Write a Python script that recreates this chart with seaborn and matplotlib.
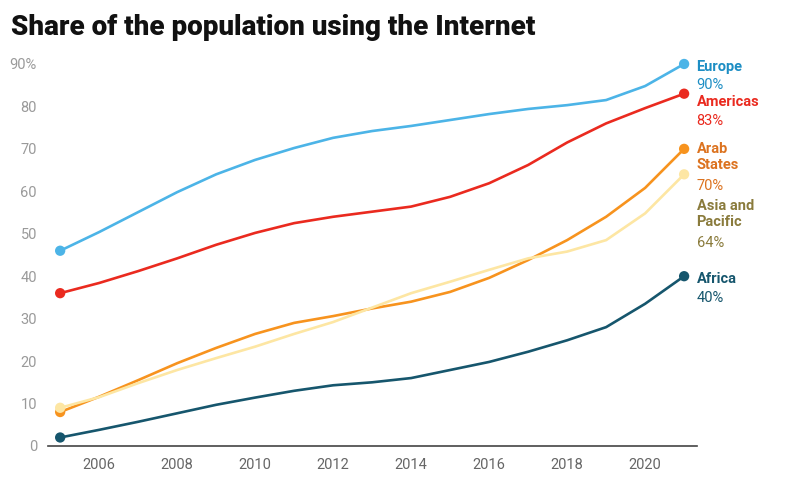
import pandas as pd
import matplotlib.pyplot as plt
import seaborn as sns

# Datos (porcentaje de la población que usa Internet)
years = list(range(2005, 2022))
europe = [46, 50.4, 55.1, 59.8, 64.0, 67.4, 70.2, 72.6, 74.2, 75.4, 76.8, 78.2, 79.4, 80.3, 81.5, 84.8, 90]
americas = [36, 38.4, 41.2, 44.2, 47.4, 50.2, 52.5, 54.0, 55.2, 56.4, 58.7, 61.9, 66.2, 71.5, 76.0, 79.6, 83]
arab_states = [8, 11.6, 15.5, 19.5, 23.1, 26.4, 29.0, 30.6, 32.4, 34.0, 36.3, 39.6, 43.8, 48.5, 54.0, 60.8, 70]
asia_pacific = [9, 11.5, 14.8, 17.9, 20.7, 23.4, 26.4, 29.2, 32.6, 36.0, 38.7, 41.5, 44.2, 45.8, 48.5, 54.8, 64]
africa = [2, 3.8, 5.7, 7.7, 9.7, 11.4, 13.0, 14.3, 15.0, 16.0, 17.9, 19.8, 22.2, 24.9, 28.0, 33.5, 40]

regions = ['Europe', 'Americas', 'Arab States', 'Asia and Pacific', 'Africa']
label_names = ['Europe', 'Americas', 'Arab\nStates', 'Asia and\nPacific', 'Africa']
label_y = [91, 82.7, 71.6, 58.2, 41]
line_colors = ['#4cb4e7', '#ea2a1f', '#f7931e', '#fde6a3', '#16566d']
text_colors = ['#1d8ec4', '#ea2a1f', '#dc7320', '#8a7b3c', '#16566d']

df = pd.DataFrame({
    'year': years * 5,
    'share': europe + americas + arab_states + asia_pacific + africa,
    'region': [r for r in regions for _ in years],
})

plt.rcParams['font.family'] = ['Roboto', 'DejaVu Sans']

fig = plt.figure(figsize=(7.88, 4.91), dpi=100)
ax = fig.add_axes([0.061, 0.0917, 0.8235, 0.778])

palette = dict(zip(regions, line_colors))
sns.lineplot(data=df, x='year', y='share', hue='region', palette=palette,
             linewidth=1.9, legend=False, ax=ax)
for ln in ax.lines:
    ln.set_solid_joinstyle('round')

# puntos al inicio y al final
ends = df[df['year'].isin([years[0], years[-1]])]
sns.scatterplot(data=ends, x='year', y='share', hue='region', palette=palette,
                s=55, edgecolor='none', legend=False, ax=ax, clip_on=False, zorder=5)

# etiquetas a la derecha
last = df[df['year'] == years[-1]].set_index('region')['share']
for r, name, ly, tc in zip(regions, label_names, label_y, text_colors):
    nlines = name.count('\n') + 1
    ax.annotate(name, xy=(years[-1], ly), xytext=(9, 0), textcoords='offset points',
                ha='left', va='top', fontsize=10.5, fontweight='bold', color=tc,
                linespacing=1.2, annotation_clip=False)
    ax.annotate(f'{last[r]:.0f}%', xy=(years[-1], ly), xytext=(9, -13.4 * nlines),
                textcoords='offset points', ha='left', va='top', fontsize=10.5,
                color=tc, annotation_clip=False)

ax.set_xlim(2004.69, 2021.33)
ax.set_ylim(0, 90)
ax.set_xticks(range(2006, 2021, 2))
ax.set_yticks(range(0, 91, 10))
ax.set_yticklabels([str(v) for v in range(0, 90, 10)] + ['90%'])
ax.tick_params(axis='y', length=0, pad=8, labelsize=10.5, labelcolor='#9a9a9a')
ax.tick_params(axis='x', length=0, pad=9, labelsize=10.5, labelcolor='#666666')
ax.set_xlabel('')
ax.set_ylabel('')
for s in ['top', 'right', 'left']:
    ax.spines[s].set_visible(False)
ax.spines['bottom'].set_color('#444444')
ax.spines['bottom'].set_linewidth(1.2)
ax.grid(False)

fig.text(0.014, 0.945, 'Share of the population using the Internet',
         fontsize=20, fontweight='black', color='#111111', ha='left', va='center')

fig.savefig('out.png', dpi=100)
